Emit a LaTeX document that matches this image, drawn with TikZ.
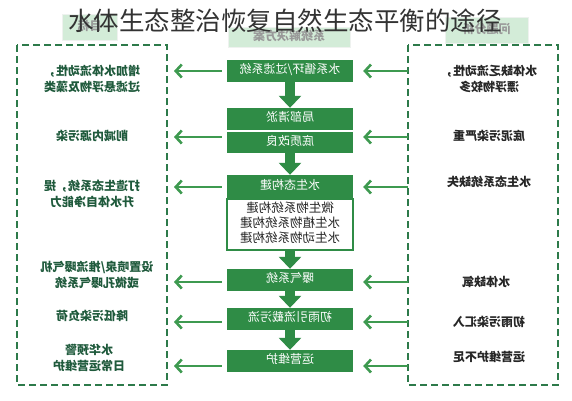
\documentclass[tikz,border=0pt]{standalone}
\usepackage{fontspec}
\usepackage{graphicx}
\setmainfont{Noto Sans CJK SC}
\usetikzlibrary{arrows.meta}
\definecolor{dgreen}{HTML}{2D7A4A}
\definecolor{boxg}{HTML}{2F8C46}
\definecolor{arrg}{HTML}{3E9A50}
\definecolor{headg}{HTML}{D3ECD8}
\definecolor{ltxt}{HTML}{1F5A3C}
\newcommand{\mirtxt}[1]{\reflectbox{\begin{tabular}{@{}c@{}}#1\end{tabular}}}
\tikzset{
  dashbox/.style={draw=dgreen, line width=2.5pt, dash pattern=on 7pt off 4pt},
  headbox/.style={fill=headg, draw=headg!80!black!20, inner sep=0},
  headtxt/.style={text=black!40, font=\fontsize{12}{14}\selectfont\bfseries, inner sep=0},
  sidel/.style={text=ltxt, font=\fontsize{12}{16}\selectfont\bfseries, inner sep=0},
  sider/.style={text=black!85, font=\fontsize{12}{16}\selectfont\bfseries, inner sep=0},
  cbox/.style={fill=boxg, text=white, minimum width=126pt, minimum height=22pt, inner sep=0, font=\fontsize{12}{14}\selectfont},
  downarr/.style={draw=boxg, line width=10pt, -{Triangle[width=22pt,length=12pt]}},
  harr/.style={draw=arrg, line width=2.6pt, -{Straight Barb[length=6pt,width=13pt]}},
}
\begin{document}
\begin{tikzpicture}[x=1pt,y=-1pt]
\fill[white] (0,0) rectangle (572,400);
\useasboundingbox (0,0) rectangle (572,400);

% header tabs
\node[headbox, minimum width=55pt, minimum height=26pt] (hl) at (89.5,27) {};
\node[headtxt] at (hl) {\mirtxt{目标}};
\node[headbox, minimum width=122pt, minimum height=20pt] (hc) at (289,37) {};
\node[headtxt] at (hc) {\mirtxt{系统解决方案}};
\node[headbox, minimum width=83pt, minimum height=26pt] (hr) at (486.5,30) {};
\node[headtxt] at (hr) {\mirtxt{问题分析}};

% title
\node[text=black!80, font=\fontsize{25.5}{28}\selectfont, inner sep=0] (title) at (285,21) {水体生态整治恢复自然生态平衡的途径};

% dashed boxes
\draw[dashbox] (17,45) rectangle (167,385);
\draw[dashbox] (408,45) rectangle (558,385);

% centre boxes
\node[cbox] (b1) at (290,71) {\mirtxt{水系循环/过滤系统}};
\node[cbox] (b2a) at (290,119) {\mirtxt{局部清淤}};
\node[cbox, minimum height=21pt] (b2b) at (290,142.5) {\mirtxt{底质改良}};
\node[cbox, minimum height=23pt] (b3) at (290,186.5) {\mirtxt{水生态构建}};
\node[draw=boxg, line width=2pt, fill=white, minimum width=126pt, minimum height=51pt, inner sep=0, anchor=north] (b3b) at (b3.south) {};
\node[text=black!85, font=\fontsize{12.5}{15}\selectfont, inner sep=0] (b3t) at (b3b) {\mirtxt{微生物系统构建\\水生植物系统构建\\水生动物系统构建}};
\node[cbox] (b4) at (290,280) {\mirtxt{曝气系统}};
\node[cbox] (b5) at (290,319) {\mirtxt{初雨引流截污流}};
\node[cbox] (b6) at (290,361) {\mirtxt{运营维护}};

% down arrows
\draw[downarr] (b1.south) -- (b2a.north);
\draw[downarr] (b2b.south) -- (b3.north);
\draw[downarr] (b3b.south) -- (b4.north);
\draw[downarr] (b4.south) -- (b5.north);
\draw[downarr] (b5.south) -- (b6.north);

% left texts
\node[sidel] (l1) at (92,80) {\mirtxt{增加水体流动性，\\过滤悬浮物及藻类}};
\node[sidel] (l2) at (92,137) {\mirtxt{削减内源污染}};
\node[sidel] (l3) at (92,195) {\mirtxt{打造生态系统，提\\升水体自净能力}};
\node[sidel] (l4) at (97,276) {\mirtxt{设置喷泉/推流曝气机\\或微孔曝气系统}};
\node[sidel] (l5) at (92,317) {\mirtxt{降低污染负荷}};
\node[sidel] (l6) at (89,359) {\mirtxt{水华预警\\日常运营维护}};

% right texts
\node[sider] (r1) at (489,80) {\mirtxt{水体缺乏流动性，\\漂浮物较多}};
\node[sider] (r2) at (489,137) {\mirtxt{底泥污染严重}};
\node[sider] (r3) at (489,183) {\mirtxt{水生态系统缺失}};
\node[sider] (r4) at (486,283) {\mirtxt{水体缺氧}};
\node[sider] (r5) at (489,323) {\mirtxt{初雨污染汇入}};
\node[sider] (r6) at (489,358) {\mirtxt{运营维护不足}};

% arrow end points
\coordinate (rt1) at (408,71);  \coordinate (lt1) at (174,71);
\coordinate (rt2) at (408,137); \coordinate (lt2) at (174,137);
\coordinate (rt3) at (408,187); \coordinate (lt3) at (174,187);
\coordinate (rt4) at (408,282); \coordinate (lt4) at (174,282);
\coordinate (rt5) at (408,322); \coordinate (lt5) at (174,322);
\coordinate (rt6) at (408,366); \coordinate (lt6) at (174,366);

% right-side arrows into centre
\draw[harr] (rt1) -- ([xshift=10pt]b1.east |- rt1);
\draw[harr] (rt2) -- ([xshift=10pt]b2b.east |- rt2);
\draw[harr] (rt3) -- ([xshift=10pt]b3.east |- rt3);
\draw[harr] (rt4) -- ([xshift=10pt]b4.east |- rt4);
\draw[harr] (rt5) -- ([xshift=10pt]b5.east |- rt5);
\draw[harr] (rt6) -- ([xshift=10pt]b6.east |- rt6);

% centre arrows out to left
\draw[harr] ([xshift=-5pt]b1.west |- lt1) -- (lt1);
\draw[harr] ([xshift=-5pt]b2b.west |- lt2) -- (lt2);
\draw[harr] ([xshift=-5pt]b3.west |- lt3) -- (lt3);
\draw[harr] ([xshift=-5pt]b4.west |- lt4) -- (lt4);
\draw[harr] ([xshift=-5pt]b5.west |- lt5) -- (lt5);
\draw[harr] ([xshift=-5pt]b6.west |- lt6) -- (lt6);
\end{tikzpicture}
\end{document}
